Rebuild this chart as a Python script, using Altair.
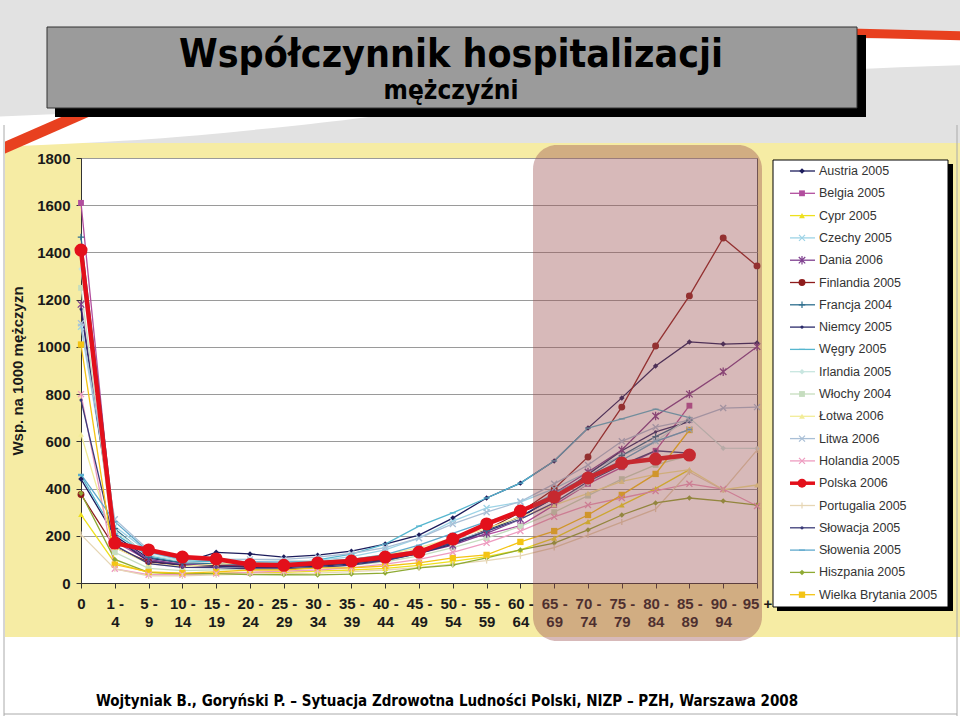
import altair as alt
import pandas as pd

# ---------------- data ----------------
ages = ["0", "1 - 4", "5 - 9", "10 - 14", "15 - 19", "20 - 24", "25 - 29", "30 - 34",
        "35 - 39", "40 - 44", "45 - 49", "50 - 54", "55 - 59", "60 - 64", "65 - 69",
        "70 - 74", "75 - 79", "80 - 84", "85 - 89", "90 - 94", "95 +"]

names = ["Austria  2005", "Belgia 2005", "Cypr 2005", "Czechy 2005", "Dania 2006",
         "Finlandia 2005", "Francja 2004", "Niemcy 2005", "Węgry 2005", "Irlandia 2005",
         "Włochy 2004", "Łotwa 2006", "Litwa 2006", "Holandia 2005", "Polska 2006",
         "Portugalia 2005", "Słowacja 2005", "Słowenia 2005", "Hiszpania 2005",
         "Wielka Brytania 2005"]

austria = [440, 200, 105, 85, 130, 123, 110, 118, 135, 165, 203, 275, 360, 423, 517, 656, 784, 919, 1021, 1012, 1016]
belgia = [1610, 175, 95, 80, 80, 80, 85, 90, 100, 115, 140, 175, 205, 243, 330, 420, 490, 560, 751, None, None]
cypr = [290, 85, 45, 38, 42, 45, 45, 50, 55, 62, 75, 92, 112, 140, 190, 260, 330, 400, 480, None, None]
czechy = [1085, 240, 130, 95, 92, 88, 88, 95, 112, 140, 190, 262, 318, 343, 400, 470, 540, 600, 650, None, None]
dania = [1180, 190, 100, 78, 76, 72, 70, 75, 85, 100, 125, 160, 210, 270, 380, 470, 563, 707, 800, 895, 1001]
finlandia = [375, 150, 90, 75, 72, 70, 70, 75, 85, 100, 130, 170, 225, 300, 398, 534, 745, 1004, 1216, 1461, 1343]
francja = [1465, 230, 110, 85, 82, 78, 76, 80, 90, 105, 132, 172, 222, 282, 360, 450, 540, 620, 690, None, None]
niemcy = [1160, 190, 92, 76, 72, 66, 65, 70, 80, 96, 125, 165, 220, 280, 360, 460, 560, 640, 683, None, None]
wegry = [455, 210, 115, 92, 92, 86, 86, 98, 122, 165, 241, 297, 360, 423, 517, 656, 695, 736, 700, None, None]
irlandia = [1330, 220, 120, 92, 100, 100, 95, 95, 100, 115, 140, 180, 220, 270, 340, 420, 520, 600, 700, 571, 570]
wlochy = [1250, 130, 62, 52, 56, 60, 60, 65, 75, 90, 115, 150, 190, 240, 300, 370, 440, 500, 540, None, None]
lotwa = [630, 150, 82, 70, 80, 85, 85, 90, 100, 120, 150, 190, 230, 280, 330, 380, 430, 460, 480, 395, 415]
litwa = [1100, 270, 140, 100, 100, 100, 100, 110, 125, 150, 190, 250, 300, 345, 420, 500, 600, 660, 690, 741, 745]
holandia = [800, 60, 35, 35, 40, 45, 50, 55, 65, 80, 100, 130, 170, 220, 280, 330, 360, 390, 420, 398, 326]
polska = [1410, 169, 140, 110, 102, 78, 75, 85, 93, 110, 131, 186, 250, 305, 364, 445, 508, 525, 542, None, None]
portugalia = [205, 60, 30, 30, 35, 38, 40, 42, 48, 55, 65, 80, 95, 115, 150, 203, 258, 313, 470, 394, 563]
slowacja = [775, 160, 82, 66, 65, 60, 60, 66, 76, 95, 125, 170, 220, 270, 340, 430, 500, 560, 550, None, None]
slowenia = [460, 260, 132, 100, 95, 90, 88, 90, 100, 120, 160, 210, 260, 300, 380, 450, 520, 600, 650, None, None]
hiszpania = [380, 100, 45, 40, 40, 36, 35, 34, 38, 42, 64, 76, 106, 140, 169, 225, 288, 339, 360, 347, 330]
wielka_brytania = [1010, 78, 47, 42, 47, 55, 55, 64, 64, 72, 85, 106, 119, 174, 220, 288, 373, 462, 648, None, None]

values = [austria, belgia, cypr, czechy, dania, finlandia, francja, niemcy, wegry, irlandia,
          wlochy, lotwa, litwa, holandia, polska, portugalia, slowacja, slowenia, hiszpania,
          wielka_brytania]

# ---------------- styles ----------------
colors = ["#1C1C5C", "#B24E9E", "#EDE01E", "#9DD3E6", "#7E3E8E", "#8E1C1C", "#2E6E8E",
          "#2A2A6A", "#56B6CF", "#C8E6E0", "#C6DDBF", "#F2EC98", "#A9BFD6", "#EE9CC0",
          "#E3101B", "#E6D6B4", "#3B3B78", "#5FA9CC", "#8EAA33", "#F4C414"]
XP = "M-1,-1L1,1M-1,1L1,-1"
STAR = "M-1,-1L1,1M-1,1L1,-1M0,-1.3L0,1.3"
PLUS = "M-1,0L1,0M0,-1L0,1"
VBAR = "M0,-1L0,1"
DASH = "M-1,0L1,0"
shapes = ["diamond", "square", "triangle-up", XP, STAR, "circle", PLUS, "circle", DASH,
          "diamond", "square", "triangle-up", XP, XP, "circle", VBAR, "circle", DASH,
          "diamond", "square"]
filled = [True, True, True, False, False, True, False, True, False, True, True, True,
          False, False, True, False, True, False, True, True]
sizes = [30, 34, 34, 36, 42, 48, 42, 10, 36, 30, 34, 34, 36, 36, 170, 36, 10, 36, 30, 40]

rows = []
for k, (nm, vals) in enumerate(zip(names, values)):
    for i, v in enumerate(vals):
        if v is not None:
            rows.append({"series": nm, "age": ages[i], "value": v, "color": colors[k],
                         "shape": shapes[k], "filled": filled[k], "sz": sizes[k],
                         "pl": nm.startswith("Polska"), "k": k})
df = pd.DataFrame(rows)
others = df[~df["pl"]]
pol = df[df["pl"]]

leg = pd.DataFrame({"series": names, "color": colors, "shape": shapes, "filled": filled,
                    "sz": [min(s, 80) for s in sizes], "i": list(range(len(names)))})

OX, OY = 81, 158
one = pd.DataFrame({"a": [0]})

def rect(x1, x2, y1, y2, **kw):
    return alt.Chart(one).mark_rect(**kw).encode(
        x=alt.value(x1 - OX), x2=alt.value(x2 - OX), y=alt.value(y1 - OY), y2=alt.value(y2 - OY))

def rule(x1, y1, x2, y2, **kw):
    return alt.Chart(one).mark_rule(**kw).encode(
        x=alt.value(x1 - OX), x2=alt.value(x2 - OX), y=alt.value(y1 - OY), y2=alt.value(y2 - OY))

def text(t, x, y, **kw):
    return alt.Chart(one).mark_text(text=t, **kw).encode(x=alt.value(x - OX), y=alt.value(y - OY))

NARROW = "DejaVu Sans Condensed, Liberation Sans Narrow, Liberation Sans, sans-serif"
FONT = "Liberation Sans, Arial, sans-serif"

xenc = alt.X("age:O", sort=ages,
             scale=alt.Scale(type="point", domain=ages, padding=0),
             axis=alt.Axis(title=None, labelAngle=0, labelFont=FONT, labelFontSize=15,
                           labelFontWeight="bold", labelColor="#1a1a1a", tickSize=5,
                           tickColor="#333", domainColor="#333", labelPadding=8,
                           labelLineHeight=18, grid=False,
                           labelExpr="indexof(datum.value, ' - ') > 0 ? [split(datum.value, ' - ')[0] + ' -', split(datum.value, ' - ')[1]] : datum.value"))
yenc = alt.Y("value:Q", scale=alt.Scale(domain=[0, 1800], nice=False),
             axis=alt.Axis(values=list(range(0, 1801, 200)), format="d", title="Wsp. na 1000 mężczyzn",
                           grid=True, gridColor="#9A9A9A", labelFont=FONT, labelFontSize=15,
                           labelFontWeight="bold", labelColor="#1a1a1a", tickSize=5,
                           tickColor="#333", domainColor="#333", labelPadding=6,
                           titleFont=FONT, titleFontSize=15, titleFontWeight="bold",
                           titleColor="#1a1a1a", titlePadding=11))
col = alt.Color("color:N", scale=None, legend=None)

lines_o = alt.Chart(others).mark_line(strokeWidth=1.3).encode(
    x=xenc, y=yenc, color=col, detail="series:N")
pts_f = alt.Chart(others).transform_filter("datum.filled").mark_point(filled=True, opacity=1).encode(
    x=xenc, y=yenc, color=col, shape=alt.Shape("shape:N", scale=None),
    size=alt.Size("sz:Q", scale=None))
pts_s = alt.Chart(others).transform_filter("!datum.filled").mark_point(filled=False, opacity=1, strokeWidth=1.3).encode(
    x=xenc, y=yenc, color=col, shape=alt.Shape("shape:N", scale=None),
    size=alt.Size("sz:Q", scale=None))
line_p = alt.Chart(pol).mark_line(strokeWidth=4.5, color="#E3101B").encode(x=xenc, y=yenc)
pts_p = alt.Chart(pol).mark_point(filled=True, opacity=1, color="#E3101B", size=170).encode(x=xenc, y=yenc)

# ---------------- decoration ----------------
band = pd.DataFrame({"px": [-10, 150, 300, 450, 600, 750, 970],
                     "py": [132, 124, 110, 92, 74, 60, 50]})
white_band = alt.Chart(band).transform_calculate(
    rx="datum.px - 81", ry="datum.py - 158").mark_line(
    color="white", strokeWidth=30, interpolate="monotone").encode(
    x=alt.X("rx:Q", scale=None, axis=None), y=alt.Y("ry:Q", scale=None, axis=None))

deco = [
    rect(0, 960, 0, 143, color="#E2E2E2"),
    white_band,
    rect(0, 960, 0, 22, color="#E2E2E2"),
    rule(-5, 152, 100, 106, color="#E8401F", strokeWidth=11),
    rule(850, 33, 965, 36, color="#E8401F", strokeWidth=9),
    rect(0, 960, 637, 716, color="white"),
    rect(0, 5, 120, 716, color="white"),
    rule(4, 125, 4, 716, color="#AAAAAA", strokeWidth=1),
    rule(957, 125, 957, 716, color="#AAAAAA", strokeWidth=1),
    rule(4, 714, 957, 714, color="#AAAAAA", strokeWidth=1),
    rect(55, 866, 35, 117, color="black"),
    rect(47, 857, 27, 108, color="#9B9B9B", stroke="#333", strokeWidth=1),
    text("Współczynnik hospitalizacji", 451, 67, font=NARROW, fontSize=39,
         fontWeight="bold", color="black", align="center", baseline="alphabetic"),
    text("mężczyźni", 451, 99, font=NARROW, fontSize=26, fontWeight="bold",
         color="black", align="center", baseline="alphabetic"),
]

overlay = rect(533, 762, 145, 641, color="#9C5050", opacity=0.4, cornerRadius=24)

# legend
LY = "13 + datum.i * 22.3"
leg_box = [rect(777, 953, 164, 611, color="black"),
           rect(773, 948, 160, 607, color="white", stroke="black", strokeWidth=1)]
leg_base = alt.Chart(leg).transform_calculate(ly=LY, lw="datum.i == 14 ? 3.5 : 1.3")
ly = alt.Y("ly:Q", scale=None, axis=None)
leg_lines = leg_base.mark_rule().encode(
    x=alt.value(790 - OX), x2=alt.value(815 - OX), y=ly, y2=alt.Y2("ly:Q"),
    color=col, strokeWidth=alt.StrokeWidth("lw:Q", scale=None, legend=None))
leg_pf = leg_base.transform_filter("datum.filled").mark_point(filled=True, opacity=1).encode(
    x=alt.value(802 - OX), y=ly, color=col, shape=alt.Shape("shape:N", scale=None),
    size=alt.Size("sz:Q", scale=None))
leg_ps = leg_base.transform_filter("!datum.filled").mark_point(filled=False, opacity=1, strokeWidth=1.2).encode(
    x=alt.value(802 - OX), y=ly, color=col, shape=alt.Shape("shape:N", scale=None),
    size=alt.Size("sz:Q", scale=None))
leg_txt = leg_base.mark_text(align="left", baseline="middle", font=FONT, fontSize=12.5,
                             color="#333").encode(x=alt.value(819 - OX), y=ly,
                                                  text="series:N")

footer = text("Wojtyniak B., Goryński P. – Sytuacja Zdrowotna Ludności Polski, NIZP – PZH, Warszawa 2008",
              447, 706, font=NARROW, fontSize=15, fontWeight="bold", color="black",
              align="center", baseline="alphabetic")

chart = alt.layer(
    *deco, lines_o, pts_f, pts_s, line_p, pts_p, overlay,
    *leg_box, leg_lines, leg_pf, leg_ps, leg_txt, footer
).properties(
    width=676, height=425,
    padding={"left": 81, "top": 158, "right": 203, "bottom": 133},
    autosize=alt.AutoSizeParams(type="none"),
    background="#F6ECA4",
).configure_view(fill="white", stroke="#555", strokeWidth=1)

chart.save("out.html", embed_options={"renderer": "svg", "actions": False})
